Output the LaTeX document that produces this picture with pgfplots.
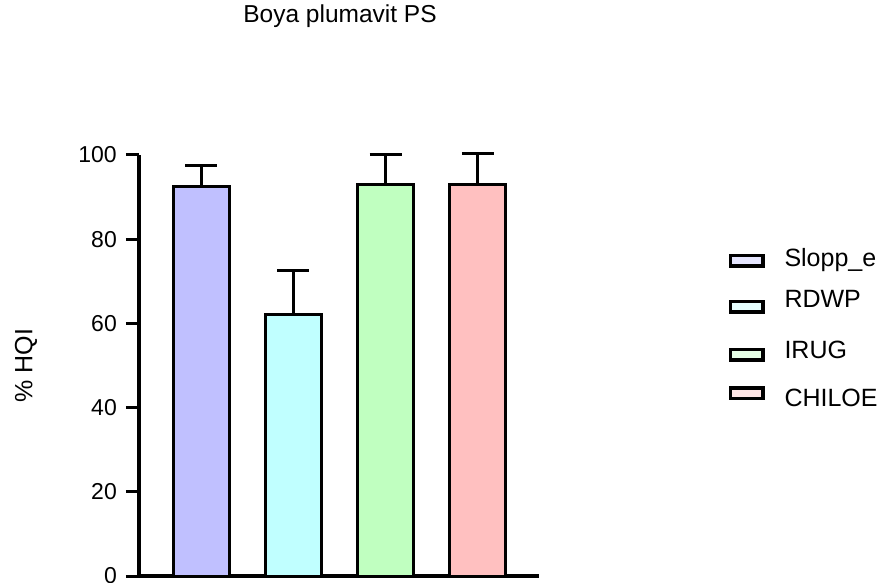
\documentclass[border=0pt]{standalone}
\usepackage{fontspec}
\setmainfont{Liberation Sans}
\usepackage{pgfplots}
\pgfplotsset{compat=1.18}
\definecolor{c1}{HTML}{C0C0FF}
\definecolor{c2}{HTML}{C0FFFF}
\definecolor{c3}{HTML}{C0FFC0}
\definecolor{c4}{HTML}{FFC0C0}
\definecolor{l1}{HTML}{E6E6FF}
\definecolor{l2}{HTML}{E6FFFF}
\definecolor{l3}{HTML}{E6FFE6}
\definecolor{l4}{HTML}{FFE6E6}
\pgfplotsset{
  mybar/.style={ybar, bar width=56pt, bar shift=0pt, fill=#1, draw=black, line width=3pt,
    error bars/y dir=plus, error bars/y explicit,
    error bars/error bar style={line width=3pt, black},
    error bars/error mark=-, error bars/error mark options={line width=3pt, mark size=16pt, black, rotate=90}},
  limg/.style={legend image code/.code={\path (0pt,0pt); \draw[line width=3.5pt, fill=#1] (1.75pt,3.75pt) rectangle (34.25pt,14.25pt);}}
}
\begin{document}
\begin{tikzpicture}
\path[use as bounding box] (-139pt,-6pt) rectangle (742pt,576pt);
\begin{axis}[
  at={(0pt,0pt)}, anchor=south west,
  width=400pt, height=421pt, scale only axis,
  xmin=-0.674, xmax=3.663, ymin=0, ymax=100,
  axis x line*=bottom, axis y line*=left,
  xtick=\empty, ytick={0,20,40,60,80,100},
  tick align=outside, major tick length=13pt,
  tick style={line width=3pt, black},
  axis line style={line width=3.5pt, black},
  /pgf/number format/assume math mode=true,
  yticklabel style={font=\fontsize{23}{23}\selectfont, inner sep=0pt, xshift=-9pt},
  ylabel={\% HQI},
  ylabel style={at={(axis description cs:-0.2825,0.5)}, anchor=center, rotate=0, font=\fontsize{25}{25}\selectfont},
  title={Boya plumavit PS},
  title style={at={(axis description cs:0.5025,1.2993)}, anchor=base, yshift=0pt, font=\fontsize{24.5}{24.5}\selectfont},
  clip=false,
  legend style={draw=none, fill=none, at={(axis description cs:1.47,0.778)}, anchor=north west,
    inner sep=0pt, outer sep=0pt, row sep=0pt, column sep=20pt,
    cells={anchor=base west}, nodes={inner sep=0pt, text depth=, text height=},
    font=\fontsize{25}{25}\selectfont},
  legend cell align=left,
]
\addplot[mybar=c1, limg=l1] coordinates {(0,92.4) +- (0,5.0)};
\addlegendentry{\rule[-24pt]{0pt}{17pt}Slopp\_e}
\addplot[mybar=c2, limg=l2] coordinates {(1,62.2) +- (0,10.3)};
\addlegendentry{\rule[-33pt]{0pt}{17pt}RDWP}
\addplot[mybar=c3, limg=l3] coordinates {(2,92.9) +- (0,7.2)};
\addlegendentry{\rule[-28pt]{0pt}{17pt}IRUG}
\addplot[mybar=c4, limg=l4] coordinates {(3,93.0) +- (0,7.3)};
\addlegendentry{\rule[-8pt]{0pt}{17pt}CHILOE}
\end{axis}
\end{tikzpicture}
\end{document}
